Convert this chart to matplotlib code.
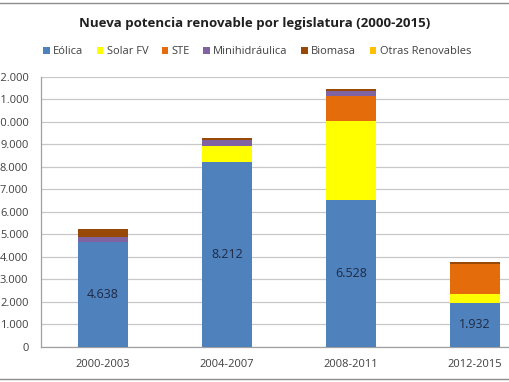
import matplotlib
matplotlib.use("Agg")
import matplotlib.pyplot as plt
from matplotlib.patches import Rectangle
import numpy as np

categories = ["2000-2003", "2004-2007", "2008-2011", "2012-2015"]
series_names = ["Eólica", "Solar FV", "STE", "Minihidráulica", "Biomasa", "Otras Renovables"]
eolica = [4638, 8212, 6528, 1932]
solar_fv = [20, 730, 3510, 420]
ste = [0, 0, 1100, 1310]
minihidraulica = [210, 250, 230, 20]
biomasa = [370, 90, 100, 70]
otras = [0, 0, 0, 0]
colors = ["#4F81BD", "#FFFF00", "#E46C0A", "#8064A2", "#984807", "#FFC000"]
yticks = list(range(0, 13000, 1000))

plt.rcParams['font.family'] = ['Open Sans', 'DejaVu Sans']

fig = plt.figure(figsize=(5.10, 3.82), dpi=100)
W, H = 510, 382
ax = fig.add_axes([41 / W, (H - 346.7) / H, (537 - 41) / W, (346.7 - 77) / H])

x = np.arange(len(categories))
bottom = np.zeros(len(categories))
all_series = [eolica, solar_fv, ste, minihidraulica, biomasa, otras]
handles = []
for name, vals, col in zip(series_names, all_series, colors):
    vals = np.array(vals, dtype=float)
    b = ax.bar(x, vals, width=0.4, bottom=bottom, color=col, label=name, zorder=3)
    handles.append(b)
    if name == "Eólica":
        for xi, v in zip(x, vals):
            ax.text(xi, v / 2, f"{int(v):,}".replace(",", "."), ha="center", va="center",
                    fontsize=9, color="#1F2A44", zorder=4)
    bottom += vals

ax.set_xlim(-0.5, len(categories) - 0.5)
ax.set_ylim(0, 12000)
ax.set_yticks(yticks)
ax.set_yticklabels([f"{v:,}".replace(",", ".") for v in yticks], fontsize=8, color="#404040")
ax.set_xticks(x)
ax.set_xticklabels(categories, fontsize=8, color="#404040")
ax.tick_params(axis="y", length=0, pad=9)
ax.tick_params(axis="x", length=0, pad=9)
ax.grid(axis="y", color="#C8C8C8", linewidth=0.9, zorder=0)
for s in ["top", "right"]:
    ax.spines[s].set_visible(False)
for s in ["left", "bottom"]:
    ax.spines[s].set_color("#A0A0A0")
    ax.spines[s].set_linewidth(0.9)

fig.text(255 / W, 1 - 23 / H, "Nueva potencia renovable por legislatura (2000-2015)",
         ha="center", va="center", fontsize=9.5, fontweight="bold", color="#202020")

leg = fig.legend(handles=handles, labels=series_names, loc="center", ncol=6,
                 bbox_to_anchor=(257 / W, 1 - 52 / H), frameon=False, fontsize=8,
                 handlelength=0.6, handleheight=0.6, handletextpad=0.3, columnspacing=1.2,
                 borderpad=0)
for t in leg.get_texts():
    t.set_color("#404040")

fig.patches.append(Rectangle((-0.05, 3 / H), 1.1, (379 - 3) / H, transform=fig.transFigure,
                             fill=False, edgecolor="#8C8C8C", linewidth=1.0))

fig.savefig("out.png", dpi=100)
